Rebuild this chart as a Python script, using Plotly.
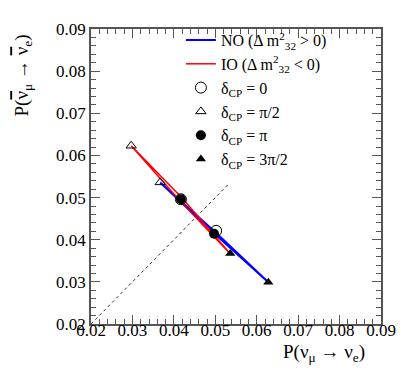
import plotly.graph_objects as go

# delta_CP values at which the markers sit
delta_labels = ['0', 'π/2', 'π', '3π/2']

# normal ordering: P(nu_mu -> nu_e), P(nubar_mu -> nubar_e) at each delta
no_p = [0.0502, 0.0367, 0.0497, 0.0628]
no_pbar = [0.0421, 0.0536, 0.0414, 0.0299]

# inverted ordering
io_p = [0.0417, 0.0297, 0.0417, 0.0536]
io_pbar = [0.0496, 0.0623, 0.0496, 0.0367]

# outline of the (very thin) ellipses traced over delta_CP
no_loop_p = [0.0367, 0.0499, 0.0628, 0.0497, 0.0367]
no_loop_pbar = [0.0536, 0.0419, 0.0299, 0.0415, 0.0536]
io_loop_p = [0.0297, 0.0420, 0.0536, 0.0414, 0.0297]
io_loop_pbar = [0.0623, 0.0499, 0.0367, 0.0493, 0.0623]

# CP-conserving reference line P = Pbar
diag = [0.02, 0.0535]

marker_styles = [
    dict(symbol='circle-open', size=11, color='black', line=dict(width=1, color='black')),
    dict(symbol='triangle-up-open', size=9, color='black', line=dict(width=1, color='black')),
    dict(symbol='circle', size=10, color='black'),
    dict(symbol='triangle-up', size=9, color='black'),
]

FONT = 'Liberation Serif'

fig = go.Figure()

fig.add_trace(go.Scatter(x=diag, y=diag, mode='lines', showlegend=False,
                         line=dict(color='#333', width=1, dash='dot')))

fig.add_trace(go.Scatter(x=no_loop_p, y=no_loop_pbar, mode='lines',
                         name='NO (Δ m<sup>2</sup><sub>32</sub> > 0)',
                         line=dict(color='blue', width=2)))
fig.add_trace(go.Scatter(x=io_loop_p, y=io_loop_pbar, mode='lines',
                         name='IO (Δ m<sup>2</sup><sub>32</sub> < 0)',
                         line=dict(color='red', width=1.5)))

for i, lab in enumerate(delta_labels):
    fig.add_trace(go.Scatter(x=[no_p[i], io_p[i]], y=[no_pbar[i], io_pbar[i]], mode='markers',
                             name='δ<sub>CP</sub> = ' + lab, marker=marker_styles[i]))

axis_common = dict(
    range=[0.02, 0.09], dtick=0.01, tickformat='.2f',
    showgrid=False, zeroline=False,
    showline=True, linecolor='#555', linewidth=1.5, mirror='allticks',
    ticks='inside', ticklen=9, tickcolor='#555', tickwidth=1,
    minor=dict(dtick=0.002, ticks='inside', ticklen=5, tickcolor='#555', tickwidth=1),
    tickfont=dict(family='Liberation Serif, serif', size=17, color='black'),
)
fig.update_xaxes(**axis_common, ticklabelstandoff=-10)
fig.update_yaxes(**axis_common)

fig.update_layout(
    width=415, height=377,
    margin=dict(l=83, r=42, t=18, b=61),
    paper_bgcolor='white', plot_bgcolor='white',
    font=dict(family=FONT, size=17, color='black'),
    legend=dict(x=0.31, y=1.02, xanchor='left', yanchor='top', bgcolor='rgba(0,0,0,0)',
                itemwidth=30, tracegroupgap=0, font=dict(family=FONT, size=16)),
    annotations=[
        dict(text='P(ν<sub>μ</sub> → ν<sub>e</sub>)', xref='paper', yref='paper',
             x=0.95, y=-0.05, xanchor='right', yanchor='top', showarrow=False,
             font=dict(family=FONT, size=19)),
        dict(text='P(<span style="text-decoration:overline">ν</span><sub>μ</sub> → '
                  '<span style="text-decoration:overline">ν</span><sub>e</sub>)',
             xref='paper', yref='paper',
             x=-0.235, y=0.842, xanchor='center', yanchor='middle', textangle=-90,
             showarrow=False, font=dict(family=FONT, size=19)),
    ],
)

fig.write_html('out.html')
